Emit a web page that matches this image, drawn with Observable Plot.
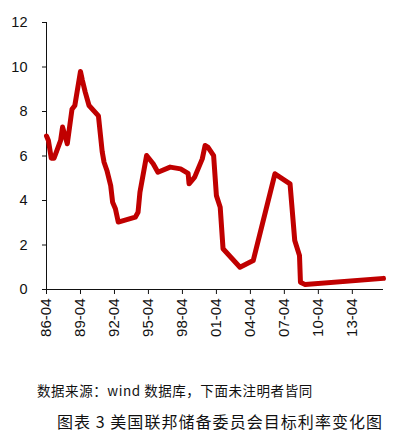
<!DOCTYPE html>
<html>
<head>
<meta charset="utf-8">
<script src="https://cdn.jsdelivr.net/npm/d3@7"></script>
<script src="https://cdn.jsdelivr.net/npm/@observablehq/plot@0.6"></script>
<style>
  body { margin: 0; background: #fff; width: 396px; height: 439px; overflow: hidden; }
  #wrap { position: relative; width: 396px; height: 439px; }
  .cap1 { position: absolute; left: 37px; top: 380px; font-family: "Noto Sans CJK SC", sans-serif; font-size: 13.5px; color: #111; white-space: nowrap; letter-spacing: 0.55px; }
  .cap2 { position: absolute; left: 57px; top: 409px; font-family: "Noto Sans CJK SC", sans-serif; font-size: 16px; color: #111; white-space: nowrap; letter-spacing: 1.05px; }
</style>
</head>
<body>
<div id="wrap">
  <div id="chart"></div>
  <div class="cap1">数据来源：wind 数据库，下面未注明者皆同</div>
  <div class="cap2">图表 3 美国联邦储备委员会目标利率变化图</div>
</div>
<script>
const dates = ["1986-04","1986-06","1986-09","1986-12","1987-07","1987-09","1988-02","1988-07","1988-10",
  "1989-04","1989-06","1989-09","1990-01","1990-11","1991-03","1991-05","1991-08","1991-12","1992-02",
  "1992-05","1992-08","1994-02","1994-05","1994-07","1995-02","1995-09","1996-02","1997-03","1998-02",
  "1998-10","1998-11","1999-05","2000-01","2000-04","2000-07","2001-01","2001-04","2001-08","2001-11",
  "2003-05","2004-07","2006-06","2007-10","2008-03","2008-08","2008-09","2009-02","2016-01"];
const rates = [6.9,6.7,5.9,5.9,6.7,7.3,6.55,8.1,8.27,
  9.8,9.4,8.87,8.27,7.8,6.2,5.72,5.35,4.67,3.92,
  3.63,3.03,3.25,3.47,4.37,6.02,5.65,5.27,5.5,5.42,
  5.22,4.75,5.05,5.87,6.47,6.4,6.02,4.22,3.7,1.83,
  1.0,1.3,5.2,4.75,2.2,1.53,0.33,0.22,0.5];
const xTickLabels = ["1986-04","1989-04","1992-04","1995-04","1998-04","2001-04","2004-04","2007-04","2010-04","2013-04"];
const yTicks = [0,2,4,6,8,10,12];
const xStart = "1986-04";
const xEnd = "2016-01";

const parse = d3.utcParse("%Y-%m");
const data = dates.map((d, i) => ({date: parse(d), rate: rates[i]}));

const chart = Plot.plot({
  width: 396,
  height: 350,
  marginLeft: 46,
  marginRight: 13,
  marginTop: 22,
  marginBottom: 61,
  style: {fontFamily: "Liberation Sans, sans-serif", background: "white", color: "#111"},
  x: {type: "utc", domain: [parse(xStart), parse(xEnd)]},
  y: {domain: [0, 12]},
  marks: [
    Plot.axisY({ticks: yTicks, tickSize: 4, tickPadding: 15, fontSize: 14.5, label: null}),
    Plot.axisX({ticks: xTickLabels.map(parse), tickSize: 5, tickPadding: 4, tickRotate: -90,
      tickFormat: d3.utcFormat("%y-%m"), fontSize: 15, label: null}),
    Plot.ruleX([parse(xStart)]),
    Plot.ruleY([0]),
    Plot.line(data, {x: "date", y: "rate", stroke: "#C00000", strokeWidth: 5,
      strokeLinejoin: "round", strokeLinecap: "round"})
  ]
});
document.getElementById("chart").appendChild(chart);
</script>
</body>
</html>
